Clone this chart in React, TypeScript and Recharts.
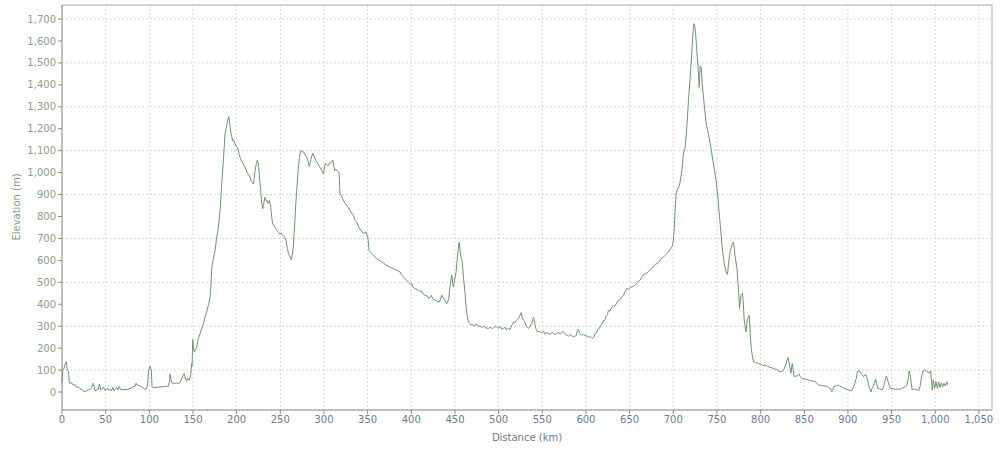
import { LineChart, Line, XAxis, YAxis, CartesianGrid, ReferenceLine } from "recharts";

// [distance km, elevation m]
const coastStart: [number, number][] = [
  [0, 40], [0.8, 100], [2.3, 108], [3.8, 130], [4.9, 138], [6.1, 100], [7.6, 92], [8.4, 40],
  [11.1, 42], [13, 30], [14.9, 35], [16.5, 22], [18.7, 24], [20.5, 15], [22.5, 12], [24.5, 5],
  [26.3, 1], [28, 6], [30.2, 9], [32, 12], [34, 21], [35.9, 40], [37.8, 6], [39.5, 8],
  [41.6, 12], [42.8, 36], [44.3, 9], [46, 18], [47.4, 21], [49.6, 6], [51.9, 17], [53.5, 8],
  [55, 12], [56.5, 5], [58.1, 21], [59.6, 6], [61, 15], [62.6, 21], [64.1, 9], [65.5, 25],
  [67.2, 12], [70, 10], [72.2, 12], [75, 11], [77.9, 17], [80, 18], [81.7, 27], [83.5, 25],
  [84.8, 40], [86, 30], [87.4, 32], [89.5, 28], [91.3, 24], [93, 20], [95.1, 12], [97, 17],
  [98.2, 45], [98.9, 92], [100.8, 118], [101.5, 108], [102.3, 100], [103.1, 24], [105, 20],
  [108.5, 21], [112, 23], [116, 24], [119, 26], [121.8, 27], [123, 45], [123.7, 82], [125, 55],
  [125.7, 42], [128, 38], [131.4, 42], [133, 36], [135, 45], [136.5, 55], [138, 70], [140, 85],
  [141, 65], [142.8, 50], [144, 62], [145.5, 55], [146.6, 65], [147.5, 80], [148.5, 130],
  [149, 120], [149.7, 240],
];

const firstMountains: [number, number][] = [
  [150.5, 200], [151.6, 183], [153, 195], [154.3, 205], [156.2, 245], [158.1, 265], [160, 290],
  [161.9, 310], [163.8, 342], [165.7, 365], [167.6, 395], [169.5, 430], [170.5, 480], [171.4, 560],
  [172.5, 590], [173.5, 610], [175.3, 645], [177, 700], [179.1, 751], [181, 827], [182.9, 948],
  [184.8, 1055], [186.7, 1177], [188, 1200], [189.4, 1233], [190.9, 1255], [192.4, 1214],
  [193.5, 1180], [195.5, 1145], [196.5, 1150], [198.2, 1130], [199.5, 1120], [200.9, 1115],
  [202.5, 1090], [203.9, 1070], [206, 1050], [207.5, 1040], [209.6, 1024], [212, 1000],
  [215.4, 979], [217, 960], [219.2, 948], [220, 970], [221.1, 1009], [222.5, 1040], [223.8, 1058],
  [225.3, 1024], [226.5, 960], [227.6, 918], [228.7, 860], [229.9, 835], [231, 860], [232.5, 888],
  [233.8, 870], [235.2, 873], [236.3, 860], [237.5, 873], [239.1, 842], [240, 800], [241.3, 767],
  [242.5, 760], [244, 751], [245.5, 740], [247.8, 729], [249.5, 720], [251, 725], [252.8, 714],
  [254.5, 710], [256.6, 691], [258.1, 653], [259.5, 630], [261.2, 615], [262.7, 603], [264.9, 660],
  [266.5, 770], [268, 873], [269.5, 960], [270.7, 1024], [272, 1070], [273.4, 1100], [275, 1098],
  [276.4, 1095], [278.5, 1080], [280.3, 1070], [282, 1050], [283.3, 1027], [285, 1060],
  [287.1, 1088], [289, 1070], [290.9, 1055], [293, 1040], [295.5, 1024], [297.5, 1010],
  [299.3, 994], [300.5, 1020], [301.6, 1042], [303.5, 1035], [305.1, 1032], [306.5, 1045],
  [307.8, 1042], [309, 1050], [310.1, 1058], [311.2, 1030], [312.3, 1009], [313.5, 1015],
  [314.6, 1012], [316, 1005], [317.3, 1001], [318.4, 903], [320, 895], [321.5, 880],
  [323.5, 865], [326.1, 850], [328, 840], [329.9, 827], [331.5, 815], [333.7, 805], [335.6, 782],
  [337.5, 774], [339, 760], [340.5, 744], [341.4, 744], [343.5, 730], [345.2, 721], [346.5, 728],
  [348.2, 729], [349.2, 715], [350.2, 706], [351.7, 645],
];

const plateau: [number, number][] = [
  [353.5, 637], [356.6, 623], [360, 610], [364.3, 597], [368, 588], [371.9, 577], [376, 568],
  [379.5, 562], [383.5, 555], [387.2, 547], [388.5, 535], [390, 530], [391, 524], [393, 515],
  [396.7, 501], [399, 490], [400.5, 495], [402.4, 476], [405, 470], [408.1, 464], [410, 458],
  [411.5, 462], [413.9, 445], [416, 440], [418, 438], [419.5, 428], [421.5, 430], [423, 440],
  [424.5, 425], [427.3, 418], [429, 415], [430.5, 412], [432.2, 410], [433.5, 425], [434.9, 441],
  [436.3, 430], [437.6, 426], [439, 415], [440.6, 403], [441.7, 410], [442.9, 426], [443.8, 460],
  [444.4, 486], [445.5, 510], [446.4, 532], [447.3, 500], [448.2, 479], [449.5, 510],
  [451.3, 547], [452.8, 615], [453.8, 650], [454.8, 683], [455.6, 655], [456.3, 630],
  [457.2, 610], [458.2, 600], [459.7, 524], [461.6, 449], [462.5, 400], [463.6, 358],
  [465, 325], [466.6, 312], [468, 305], [469.5, 310], [471.1, 300], [473, 305], [475, 309],
  [477, 298], [478.5, 302], [480.8, 294], [483, 300], [485.5, 292], [488.4, 290], [491, 295],
  [493, 288], [495.5, 298], [497.9, 297], [500, 292], [502, 298], [503.5, 286], [505.5, 290],
  [507.5, 295], [509, 283], [511, 290], [513.2, 285], [514.5, 300], [516, 310], [517, 320],
  [518.5, 315], [520, 325], [521.5, 330], [522.8, 335], [524, 345], [525.8, 362], [527, 340],
  [528.5, 327], [530, 320], [531.5, 300], [532.8, 295], [534.2, 290], [536, 300], [538, 312],
  [539, 330], [540, 340], [541, 325], [541.8, 305], [543, 285], [544.5, 274], [547, 276],
  [549.5, 270], [551.5, 278], [553, 265], [555, 270], [557.1, 267], [559, 262], [561, 272],
  [563, 265], [564.7, 262], [566.5, 268], [568.5, 270], [570.5, 265], [572.4, 274], [574, 276],
  [576, 265], [578, 258], [580, 255], [582, 262], [584, 255], [585.5, 252], [587.6, 255],
  [589, 258], [590, 280], [591.4, 285], [592.5, 270], [594, 262], [595.3, 259], [597, 262],
  [599, 258], [601, 255], [603, 250], [605, 252], [606.5, 248], [607.9, 244], [609, 250],
  [610.5, 267], [612, 270], [613.5, 285], [615.5, 290], [617, 305], [618.5, 310], [620.1, 327],
  [621.5, 325], [623, 345], [624.5, 352], [625.8, 373], [627.5, 370], [629.5, 385], [631.5, 395],
  [633, 390], [635, 405], [637.3, 418], [639, 420], [641, 432], [643, 441], [644.5, 455],
  [646.8, 471], [648.5, 468], [650.5, 475], [652.5, 479], [654.5, 482], [656.5, 490],
  [658.3, 494], [660, 505], [662, 510], [663.5, 520], [665.2, 532], [667.5, 538], [669.7, 542],
  [671.5, 550], [673.5, 555], [675.5, 562], [677.5, 575], [679.5, 582], [681.2, 585], [683, 590],
  [685, 600], [686.8, 612], [688.8, 615], [690.5, 622], [692.5, 630], [694.5, 638], [696.5, 650],
  [698, 660], [699.1, 668],
];

const highPass: [number, number][] = [
  [700, 690], [701, 736], [702, 820], [703.3, 903], [705, 925], [707.1, 941], [708.5, 975],
  [709.8, 1009], [711, 1060], [711.7, 1085], [713.6, 1115], [715.5, 1206], [717.4, 1327],
  [719.4, 1433], [721.3, 1555], [722.5, 1630], [723.2, 1660], [723.9, 1679], [724.7, 1665],
  [725.5, 1638], [727, 1555], [728.2, 1490], [728.9, 1448], [729.7, 1388], [730.3, 1440],
  [730.8, 1486], [732, 1479], [732.6, 1440], [733.1, 1403], [734.2, 1360], [735.4, 1312],
  [737.7, 1221], [740.3, 1176], [743, 1115], [746, 1039], [749.1, 964], [751.4, 873],
  [753.7, 767], [756, 661], [758.3, 585], [760.6, 547], [761.3, 540], [762.1, 536], [763.2, 580],
  [764.4, 623], [765.7, 650], [767.1, 668], [768.6, 683], [769.5, 670], [770.9, 615],
  [772.8, 570], [774.7, 464], [775.9, 380], [777.4, 441], [779.3, 449], [780.3, 400],
  [781.2, 327], [783.2, 274], [785.1, 335], [787, 350], [788.1, 267], [789.3, 199],
];

const descentToEnd: [number, number][] = [
  [790.5, 165], [791.9, 138], [794, 135], [797.6, 130], [800, 128], [803, 120], [805.3, 123],
  [808, 118], [811, 112], [813, 110], [815, 106], [818.7, 103], [820.5, 96], [822.5, 92],
  [824.5, 95], [826.3, 100], [828, 115], [829.3, 130], [830.3, 145], [831.3, 158], [832.3, 140],
  [833.2, 123], [834.7, 85], [836.2, 130], [837.3, 100], [838.5, 70], [840, 72], [841.6, 73],
  [843.9, 82], [845.5, 70], [847.3, 62], [850, 60], [852.5, 57], [854.9, 55], [857, 52],
  [860, 50], [862.5, 47], [864.5, 40], [866.4, 32], [869, 30], [871.5, 28], [874.1, 27],
  [876.5, 25], [878, 20], [879.8, 17], [881.7, 1], [882.5, 10], [883.6, 24], [885.5, 26],
  [888.2, 32], [890.5, 28], [893.2, 21], [896, 15], [898.9, 12], [901, 9], [903.5, 6], [905, 10],
  [906.5, 24], [908, 40], [909.5, 62], [910.5, 85], [911.5, 97], [912.8, 95], [914.2, 92],
  [916, 80], [918, 70], [919.5, 78], [921.1, 77], [922.5, 55], [923.8, 32], [925, 15],
  [926.5, 1], [927.5, 15], [928.8, 24], [930.3, 40], [931.8, 58], [932.8, 40], [934.1, 17],
  [936.5, 14], [939.1, 9], [940.5, 20], [941.8, 40], [943, 60], [944.1, 73], [945, 62], [946, 47],
  [947.3, 30], [948.7, 17], [951.5, 15], [954.4, 12], [957, 14], [960.1, 12], [962, 18],
  [963.9, 21], [966, 25], [967.8, 32], [969, 60], [970.1, 97], [970.8, 85], [971.6, 70],
  [972.5, 40], [973.6, 9], [975.5, 14], [977.4, 12], [979.5, 10], [981.2, 6], [982.5, 25],
  [983.9, 55], [985, 80], [986.2, 97], [988, 100], [990, 97], [991.5, 90], [992.7, 85],
  [993.8, 92], [994.7, 97], [995.5, 60], [996.6, 9], [997.2, 30], [997.8, 55], [998.5, 35],
  [999.3, 17], [1000.8, 47], [1002.4, 17], [1003.9, 47], [1005.4, 21], [1007, 42], [1008.5, 24],
  [1010, 40], [1011.5, 27], [1013.4, 47], [1014.2, 32],
];

const xTicks = [0, 50, 100, 150, 200, 250, 300, 350, 400, 450, 500, 550, 600, 650, 700, 750, 800, 850, 900, 950, 1000, 1050];
const yTicks = [0, 100, 200, 300, 400, 500, 600, 700, 800, 900, 1000, 1100, 1200, 1300, 1400, 1500, 1600, 1700];

const data = [...coastStart, ...firstMountains, ...plateau, ...highPass, ...descentToEnd].map(([km, m]) => ({ km, m }));

const fmt = (v: number) => v.toLocaleString("en-US");
const font = "DejaVu Sans";

export default function App() {
  return (
    <div style={{ position: "absolute", left: 0, top: 0, background: "#fff" }}>
      <LineChart width={1000} height={450} data={data} margin={{ top: 5, right: 8, left: 0, bottom: 0 }}>
        <CartesianGrid stroke="#d8d8d8" strokeDasharray="2 2" />
        <XAxis
          dataKey="km"
          type="number"
          domain={[0, 1065]}
          ticks={xTicks}
          tickFormatter={fmt}
          height={40}
          stroke="#8a8a8a"
          tickSize={4}
          tick={{ fill: "#6b7a98", fontSize: 10, fontFamily: font }}
          label={() => (
            <text x={527} y={441} textAnchor="middle" fill="#6b7a98" fontSize={10} fontFamily={font}>
              Distance (km)
            </text>
          )}
        />
        <YAxis
          type="number"
          domain={[-82, 1764]}
          ticks={yTicks}
          tickFormatter={fmt}
          width={62}
          stroke="#8a8a8a"
          tickSize={4}
          tick={{ fill: "#86a286", fontSize: 10, fontFamily: font }}
          label={() => (
            <text x={20} y={207} transform="rotate(-90 20 207)" textAnchor="middle" fill="#7c9c7c" fontSize={10} fontFamily={font}>
              Elevation (m)
            </text>
          )}
        />
        <ReferenceLine y={1764} stroke="#b4b4b4" />
        <ReferenceLine x={1065} stroke="#b4b4b4" />
        <Line dataKey="m" type="linear" stroke="#6a986a" strokeWidth={1} dot={false} isAnimationActive={false} />
      </LineChart>
    </div>
  );
}
